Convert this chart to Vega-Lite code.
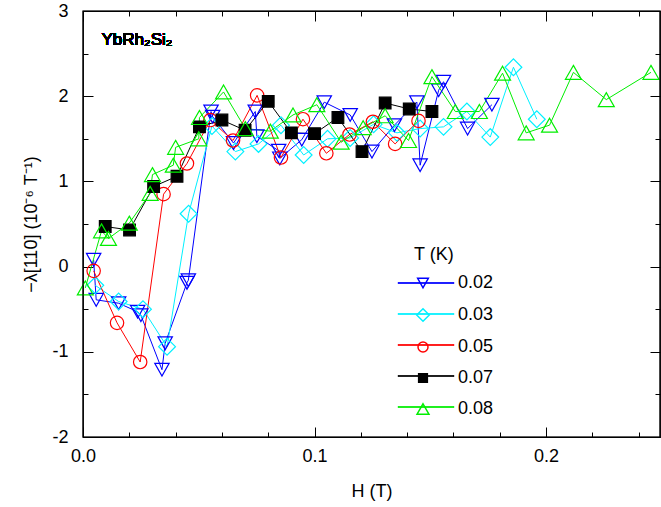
{
  "$schema": "https://vega.github.io/schema/vega-lite/v6.json",
  "width": 577,
  "height": 426,
  "autosize": {"type": "none"},
  "padding": {"left": 83, "top": 11, "right": 1, "bottom": 70},
  "config": {
    "font": "Liberation Sans",
    "view": {"stroke": "#000000", "strokeWidth": 1.2},
    "axis": {
      "grid": false,
      "domain": false,
      "ticks": true,
      "tickColor": "#000000",
      "tickWidth": 1,
      "labelColor": "#000000",
      "titleColor": "#000000",
      "labelFont": "Liberation Sans",
      "titleFont": "Liberation Sans",
      "labelFontSize": 18,
      "titleFontSize": 18,
      "titleFontWeight": "normal",
      "labelFlush": false,
      "labelOverlap": false,
      "zindex": 1
    },
    "legend": {
      "labelFont": "Liberation Sans",
      "titleFont": "Liberation Sans",
      "labelFontSize": 18,
      "titleFontSize": 18,
      "titleFontWeight": "normal",
      "labelColor": "#000000",
      "titleColor": "#000000",
      "padding": 0
    }
  },
  "data": {
    "values": [
      {"T": "0.02", "i": 1, "H": 0.0046, "L": 0.08},
      {"T": "0.02", "i": 2, "H": 0.0057, "L": -0.39},
      {"T": "0.02", "i": 3, "H": 0.0154, "L": -0.43},
      {"T": "0.02", "i": 4, "H": 0.0236, "L": -0.53},
      {"T": "0.02", "i": 5, "H": 0.0250, "L": -0.57},
      {"T": "0.02", "i": 6, "H": 0.0341, "L": -1.21},
      {"T": "0.02", "i": 7, "H": 0.0355, "L": -0.90},
      {"T": "0.02", "i": 8, "H": 0.0449, "L": -0.19},
      {"T": "0.02", "i": 9, "H": 0.0455, "L": -0.16},
      {"T": "0.02", "i": 10, "H": 0.0553, "L": 1.82},
      {"T": "0.02", "i": 11, "H": 0.0560, "L": 1.76},
      {"T": "0.02", "i": 12, "H": 0.0650, "L": 1.45},
      {"T": "0.02", "i": 13, "H": 0.0744, "L": 1.82},
      {"T": "0.02", "i": 14, "H": 0.0751, "L": 1.53},
      {"T": "0.02", "i": 15, "H": 0.0845, "L": 1.36},
      {"T": "0.02", "i": 16, "H": 0.0850, "L": 1.27},
      {"T": "0.02", "i": 17, "H": 0.0945, "L": 1.49},
      {"T": "0.02", "i": 18, "H": 0.1042, "L": 1.93},
      {"T": "0.02", "i": 19, "H": 0.1154, "L": 1.78},
      {"T": "0.02", "i": 20, "H": 0.1248, "L": 1.35},
      {"T": "0.02", "i": 21, "H": 0.1345, "L": 1.66},
      {"T": "0.02", "i": 22, "H": 0.1442, "L": 1.93},
      {"T": "0.02", "i": 23, "H": 0.1456, "L": 1.19},
      {"T": "0.02", "i": 24, "H": 0.1536, "L": 2.07},
      {"T": "0.02", "i": 25, "H": 0.1557, "L": 2.17},
      {"T": "0.02", "i": 26, "H": 0.1661, "L": 1.62},
      {"T": "0.02", "i": 27, "H": 0.1766, "L": 1.90},

      {"T": "0.03", "i": 1, "H": 0.0053, "L": -0.22},
      {"T": "0.03", "i": 2, "H": 0.0154, "L": -0.41},
      {"T": "0.03", "i": 3, "H": 0.0259, "L": -0.50},
      {"T": "0.03", "i": 4, "H": 0.0363, "L": -0.94},
      {"T": "0.03", "i": 5, "H": 0.0456, "L": 0.62},
      {"T": "0.03", "i": 6, "H": 0.0557, "L": 1.65},
      {"T": "0.03", "i": 7, "H": 0.0658, "L": 1.35},
      {"T": "0.03", "i": 8, "H": 0.0758, "L": 1.44},
      {"T": "0.03", "i": 9, "H": 0.0855, "L": 1.66},
      {"T": "0.03", "i": 10, "H": 0.0953, "L": 1.31},
      {"T": "0.03", "i": 11, "H": 0.1056, "L": 1.50},
      {"T": "0.03", "i": 12, "H": 0.1154, "L": 1.51},
      {"T": "0.03", "i": 13, "H": 0.1255, "L": 1.67},
      {"T": "0.03", "i": 14, "H": 0.1356, "L": 1.57},
      {"T": "0.03", "i": 15, "H": 0.1456, "L": 1.62},
      {"T": "0.03", "i": 16, "H": 0.1557, "L": 1.64},
      {"T": "0.03", "i": 17, "H": 0.1658, "L": 1.82},
      {"T": "0.03", "i": 18, "H": 0.1759, "L": 1.52},
      {"T": "0.03", "i": 19, "H": 0.1859, "L": 2.34},
      {"T": "0.03", "i": 20, "H": 0.1960, "L": 1.73},

      {"T": "0.05", "i": 1, "H": 0.0046, "L": -0.05},
      {"T": "0.05", "i": 2, "H": 0.0147, "L": -0.66},
      {"T": "0.05", "i": 3, "H": 0.0247, "L": -1.12},
      {"T": "0.05", "i": 4, "H": 0.0348, "L": 0.85},
      {"T": "0.05", "i": 5, "H": 0.0449, "L": 1.21},
      {"T": "0.05", "i": 6, "H": 0.0550, "L": 1.72},
      {"T": "0.05", "i": 7, "H": 0.0648, "L": 1.48},
      {"T": "0.05", "i": 8, "H": 0.0752, "L": 2.01},
      {"T": "0.05", "i": 9, "H": 0.0855, "L": 1.28},
      {"T": "0.05", "i": 10, "H": 0.0950, "L": 1.73},
      {"T": "0.05", "i": 11, "H": 0.1051, "L": 1.33},
      {"T": "0.05", "i": 12, "H": 0.1151, "L": 1.55},
      {"T": "0.05", "i": 13, "H": 0.1252, "L": 1.70},
      {"T": "0.05", "i": 14, "H": 0.1348, "L": 1.44},
      {"T": "0.05", "i": 15, "H": 0.1449, "L": 1.71},

      {"T": "0.07", "i": 1, "H": 0.0096, "L": 0.47},
      {"T": "0.07", "i": 2, "H": 0.0201, "L": 0.43},
      {"T": "0.07", "i": 3, "H": 0.0305, "L": 0.94},
      {"T": "0.07", "i": 4, "H": 0.0406, "L": 1.06},
      {"T": "0.07", "i": 5, "H": 0.0503, "L": 1.64},
      {"T": "0.07", "i": 6, "H": 0.0600, "L": 1.72},
      {"T": "0.07", "i": 7, "H": 0.0700, "L": 1.60},
      {"T": "0.07", "i": 8, "H": 0.0800, "L": 1.94},
      {"T": "0.07", "i": 9, "H": 0.0900, "L": 1.57},
      {"T": "0.07", "i": 10, "H": 0.1000, "L": 1.56},
      {"T": "0.07", "i": 11, "H": 0.1101, "L": 1.75},
      {"T": "0.07", "i": 12, "H": 0.1205, "L": 1.35},
      {"T": "0.07", "i": 13, "H": 0.1305, "L": 1.92},
      {"T": "0.07", "i": 14, "H": 0.1409, "L": 1.85},
      {"T": "0.07", "i": 15, "H": 0.1507, "L": 1.82},

      {"T": "0.08", "i": 1, "H": 0.0010, "L": -0.25},
      {"T": "0.08", "i": 2, "H": 0.0080, "L": 0.42},
      {"T": "0.08", "i": 3, "H": 0.0110, "L": 0.33},
      {"T": "0.08", "i": 4, "H": 0.0200, "L": 0.51},
      {"T": "0.08", "i": 5, "H": 0.0290, "L": 0.86},
      {"T": "0.08", "i": 6, "H": 0.0300, "L": 1.08},
      {"T": "0.08", "i": 7, "H": 0.0390, "L": 1.19},
      {"T": "0.08", "i": 8, "H": 0.0400, "L": 1.40},
      {"T": "0.08", "i": 9, "H": 0.0500, "L": 1.50},
      {"T": "0.08", "i": 10, "H": 0.0503, "L": 1.75},
      {"T": "0.08", "i": 11, "H": 0.0607, "L": 2.05},
      {"T": "0.08", "i": 12, "H": 0.0701, "L": 1.62},
      {"T": "0.08", "i": 13, "H": 0.0809, "L": 1.59},
      {"T": "0.08", "i": 14, "H": 0.0907, "L": 1.78},
      {"T": "0.08", "i": 15, "H": 0.1010, "L": 1.90},
      {"T": "0.08", "i": 16, "H": 0.1115, "L": 1.46},
      {"T": "0.08", "i": 17, "H": 0.1210, "L": 1.63},
      {"T": "0.08", "i": 18, "H": 0.1305, "L": 1.77},
      {"T": "0.08", "i": 19, "H": 0.1406, "L": 1.48},
      {"T": "0.08", "i": 20, "H": 0.1507, "L": 2.23},
      {"T": "0.08", "i": 21, "H": 0.1608, "L": 1.82},
      {"T": "0.08", "i": 22, "H": 0.1712, "L": 1.82},
      {"T": "0.08", "i": 23, "H": 0.1812, "L": 2.27},
      {"T": "0.08", "i": 24, "H": 0.1914, "L": 1.57},
      {"T": "0.08", "i": 25, "H": 0.2015, "L": 1.66},
      {"T": "0.08", "i": 26, "H": 0.2118, "L": 2.28},
      {"T": "0.08", "i": 27, "H": 0.2260, "L": 1.96},
      {"T": "0.08", "i": 28, "H": 0.2453, "L": 2.28}
    ]
  },
  "layer": [
    {
      "mark": {"type": "line", "strokeWidth": 1},
      "encoding": {
        "x": {
          "field": "H", "type": "quantitative",
          "scale": {"domain": [0, 0.2492], "nice": false, "zero": false},
          "axis": {
            "orient": "bottom", "values": [0, 0.1, 0.2], "format": ".1f",
            "offset": -10, "tickSize": 10, "labelPadding": 10,
            "title": "H (T)", "titlePadding": 17
          }
        },
        "y": {
          "field": "L", "type": "quantitative",
          "scale": {"domain": [-2, 3], "nice": false, "zero": false},
          "axis": {
            "orient": "left", "values": [-2, -1, 0, 1, 2, 3],
            "labelExpr": "toString(datum.value)",
            "offset": -10, "tickSize": 10, "labelPadding": 15,
            "title": "−λ[110] (10⁻⁶ T⁻¹)", "titlePadding": 11
          }
        },
        "color": {
          "field": "T", "type": "nominal",
          "scale": {"domain": ["0.02", "0.03", "0.05", "0.07", "0.08"], "range": ["#0000ff", "#00f0ff", "#ff0000", "#000000", "#00ee00"]},
          "legend": {
            "orient": "none", "legendX": 334, "legendY": 235,
            "symbolType": "M-8,-0.1L8,-0.1L8,0.1L-8,0.1Z", "symbolSize": 49, "symbolStrokeWidth": 1,
            "title": "T (K)", "titleOpacity": 0, "titlePadding": 10,
            "labelOpacity": 0, "rowPadding": 13, "labelOffset": 30
          }
        },
        "order": {"field": "i"}
      }
    },
    {
      "mark": {"type": "point", "filled": false, "opacity": 1, "strokeWidth": 1.2, "size": 180},
      "encoding": {
        "x": {
          "field": "H", "type": "quantitative",
          "axis": {"orient": "bottom", "values": [0.02, 0.04, 0.06, 0.08, 0.12, 0.14, 0.16, 0.18, 0.22, 0.24], "labels": false, "offset": -5, "tickSize": 5, "title": null}
        },
        "y": {
          "field": "L", "type": "quantitative",
          "axis": {"orient": "left", "values": [-1.5, -0.5, 0.5, 1.5, 2.5], "labels": false, "offset": -5, "tickSize": 5, "title": null}
        },
        "color": {
          "field": "T", "type": "nominal",
          "legend": {"orient": "none", "legendX": 331, "legendY": 235, "title": "T (K)", "titlePadding": 10, "rowPadding": 13, "labelOffset": 26}
        },
        "shape": {
          "field": "T", "type": "nominal",
          "scale": {"domain": ["0.02", "0.03", "0.05", "0.07", "0.08"], "range": ["M-1.07,-0.95L1.07,-0.95L0,0.95Z", "M-1.25,0L0,-1.25L1.25,0L0,1.25Z", "circle", "M-0.87,-0.87L0.87,-0.87L0.87,0.87L-0.87,0.87Z", "M0,-1.04L1.19,1.04L-1.19,1.04Z"]},
          "legend": {"orient": "none", "legendX": 331, "legendY": 235, "title": "T (K)", "titlePadding": 10, "rowPadding": 13, "labelOffset": 26}
        },
        "fill": {
          "field": "T", "type": "nominal",
          "scale": {"domain": ["0.02", "0.03", "0.05", "0.07", "0.08"], "range": ["transparent", "transparent", "transparent", "#000000", "transparent"]},
          "legend": {"orient": "none", "legendX": 331, "legendY": 235, "title": "T (K)", "titlePadding": 10, "rowPadding": 13, "labelOffset": 26}
        }
      }
    },
    {
      "mark": {"type": "text", "text": "YbRh₂Si₂", "align": "left", "baseline": "middle", "fontSize": 17, "fontWeight": "normal", "color": "#000000"},
      "encoding": {
        "x": {
          "datum": 0.008, "type": "quantitative",
          "axis": {"orient": "top", "values": [0, 0.1, 0.2], "labels": false, "offset": -10, "tickSize": 10, "title": null}
        },
        "y": {
          "datum": 2.66, "type": "quantitative",
          "axis": {"orient": "right", "values": [-2, -1, 0, 1, 2, 3], "labels": false, "offset": -10, "tickSize": 10, "title": null}
        }
      }
    },
    {
      "data": {"values": [{}]},
      "mark": {"type": "rect", "filled": false, "strokeWidth": 1.2},
      "encoding": {
        "x": {
          "datum": 0, "type": "quantitative",
          "axis": {"orient": "top", "values": [0.02, 0.04, 0.06, 0.08, 0.12, 0.14, 0.16, 0.18, 0.22, 0.24], "labels": false, "offset": -5, "tickSize": 5, "title": null}
        },
        "x2": {"datum": 0.2492},
        "y": {
          "datum": -2, "type": "quantitative",
          "axis": {"orient": "right", "values": [-1.5, -0.5, 0.5, 1.5, 2.5], "labels": false, "offset": -5, "tickSize": 5, "title": null}
        },
        "y2": {"datum": 3},
        "stroke": {"datum": "frame", "type": "nominal", "scale": {"domain": ["frame"], "range": ["#000000"]}, "legend": null}
      }
    }
  ],
  "resolve": {
    "legend": {"color": "independent", "shape": "independent", "fill": "independent"},
    "axis": {"x": "independent", "y": "independent"}
  }
}
